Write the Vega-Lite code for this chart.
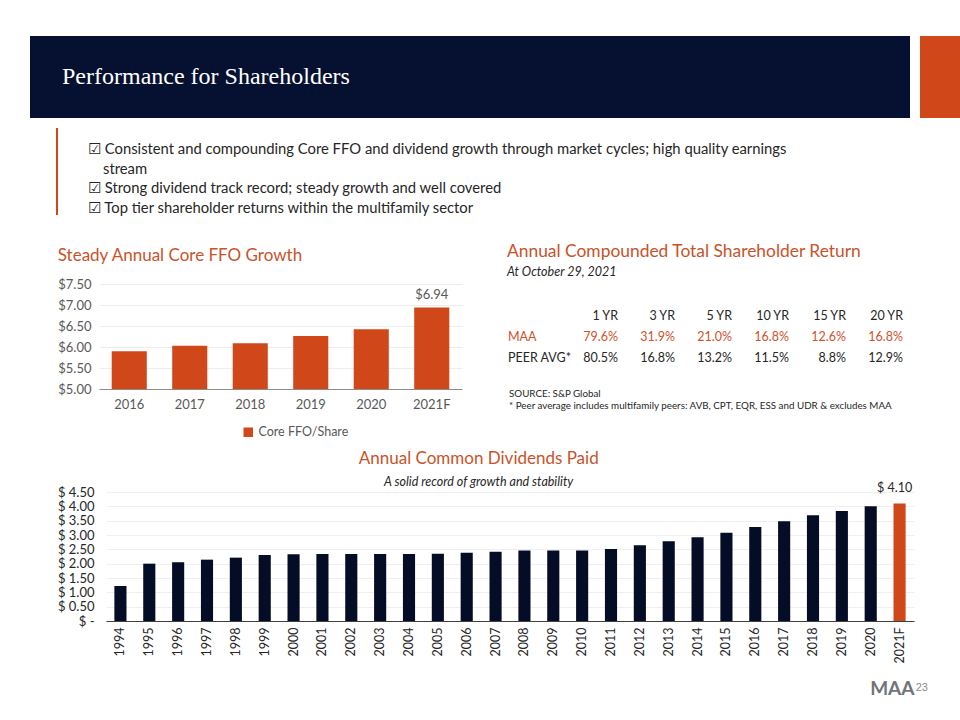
{
  "$schema": "https://vega.github.io/schema/vega-lite/v6.json",
  "background": "white",
  "padding": {"left": 30, "top": 36, "right": 0, "bottom": 6},
  "config": {
    "font": "Lato",
    "view": {"stroke": null},
    "axis": {"labelFont": "Lato", "titleFont": "Lato"},
    "title": {"font": "Lato", "fontWeight": "normal", "subtitleFont": "Lato"},
    "legend": {"labelFont": "Lato"}
  },
  "title": {"text": "23", "orient": "bottom", "anchor": "end", "fontSize": 11, "color": "#8C8C8C", "font": "Liberation Sans", "dx": -32, "offset": -16},
  "spacing": 10,
  "resolve": {"scale": {"color": "independent"}, "legend": {"color": "independent"}},
  "vconcat": [
    {
      "spacing": 10,
      "hconcat": [
        {
          "width": 880, "height": 82,
          "view": {"fill": "#061131", "stroke": null},
          "data": {"values": [{"t": "Performance for Shareholders"}]},
          "mark": {"type": "text", "align": "left", "baseline": "middle", "font": "Liberation Serif", "fontSize": 24, "color": "#FFFFFF", "dx": 32},
          "encoding": {
            "text": {"field": "t"},
            "x": {"datum": 0, "type": "quantitative", "scale": {"domain": [0, 1]}, "axis": null}
          }
        },
        {
          "width": 40, "height": 82,
          "view": {"fill": "#D0471A", "stroke": null},
          "data": {"values": [{"t": ""}]},
          "mark": {"type": "text"},
          "encoding": {"text": {"field": "t"}}
        }
      ]
    },
    {
      "spacing": 25,
      "hconcat": [
        {
          "width": 1, "height": 105,
          "data": {"values": [{"t": ""}]},
          "mark": {"type": "text"},
          "encoding": {"text": {"field": "t"}}
        },
        {
          "width": 2, "height": 87,
          "view": {"fill": "#D0471A", "stroke": null},
          "data": {"values": [{"t": ""}]},
          "mark": {"type": "text"},
          "encoding": {"text": {"field": "t"}}
        },
        {
          "width": 760, "height": 99,
          "data": {"values": [
            {"i": 1, "line": "☑ Consistent and compounding Core FFO and dividend growth through market cycles; high quality earnings"},
            {"i": 2, "line": "stream"},
            {"i": 3, "line": "☑ Strong dividend track record; steady growth and well covered"},
            {"i": 4, "line": "☑ Top tier shareholder returns within the multifamily sector"}
          ]},
          "encoding": {
            "x": {"datum": 0, "type": "quantitative", "scale": {"domain": [0, 1]}, "axis": null},
            "y": {"field": "i", "type": "ordinal", "scale": {"type": "point", "domain": [1, 2, 3, 4], "padding": 1.0165}, "axis": null},
            "text": {"field": "line"}
          },
          "layer": [
            {"transform": [{"filter": "datum.i != 2"}], "mark": {"type": "text", "align": "left", "baseline": "middle", "fontSize": 14.8, "color": "#262626", "dx": 5, "dy": 2}},
            {"transform": [{"filter": "datum.i == 2"}], "mark": {"type": "text", "align": "left", "baseline": "middle", "fontSize": 14.8, "color": "#262626", "dx": 20, "dy": 2}}
          ]
        }
      ]
    },
    {
      "spacing": 26,
      "resolve": {"scale": {"color": "independent"}, "legend": {"color": "independent"}},
      "hconcat": [
        {
          "width": 1, "height": 1,
          "data": {"values": [{"t": ""}]},
          "mark": {"type": "text"},
          "encoding": {"text": {"field": "t"}}
        },
        {
          "spacing": 43,
          "resolve": {"scale": {"color": "independent"}, "legend": {"color": "independent"}},
          "hconcat": [
            {
              "width": 363, "height": 105,
              "title": {"text": "Steady Annual Core FFO Growth", "anchor": "start", "frame": "bounds", "fontSize": 17, "color": "#C8532A", "fontWeight": "normal", "offset": 13},
              "data": {"values": [
                {"year": "2016", "ffo": 5.90, "series": "Core FFO/Share"},
                {"year": "2017", "ffo": 6.03, "series": "Core FFO/Share"},
                {"year": "2018", "ffo": 6.09, "series": "Core FFO/Share"},
                {"year": "2019", "ffo": 6.26, "series": "Core FFO/Share"},
                {"year": "2020", "ffo": 6.42, "series": "Core FFO/Share"},
                {"year": "2021F", "ffo": 6.94, "series": "Core FFO/Share"}
              ]},
              "encoding": {
                "x": {"field": "year", "type": "ordinal", "scale": {"paddingInner": 0.42, "paddingOuter": 0.21},
                      "axis": {"title": null, "labelAngle": 0, "labelFontSize": 13, "labelColor": "#595959", "labelPadding": 9, "ticks": false, "domainColor": "#8C8C8C"}},
                "y": {"field": "ffo", "type": "quantitative", "scale": {"domain": [5, 7.5], "zero": false},
                      "axis": {"title": null, "values": [5, 5.5, 6, 6.5, 7, 7.5], "format": "$.2f", "labelFontSize": 13, "labelColor": "#595959", "labelPadding": 8, "ticks": false, "domain": false, "gridColor": "#EDEDED"}}
              },
              "layer": [
                {
                  "mark": {"type": "bar"},
                  "encoding": {
                    "y2": {"datum": 5},
                    "color": {"field": "series", "type": "nominal", "scale": {"range": ["#D0471A"]},
                              "legend": {"title": null, "orient": "none", "legendX": 143, "legendY": 142, "symbolType": "square", "symbolSize": 90, "symbolStrokeWidth": 0, "labelFontSize": 12.5, "labelColor": "#595959", "direction": "horizontal"}}
                  }
                },
                {
                  "transform": [{"filter": "datum.year == '2021F'"}],
                  "mark": {"type": "text", "baseline": "bottom", "dy": -6, "fontSize": 13, "color": "#595959"},
                  "encoding": {"text": {"field": "ffo", "type": "quantitative", "format": "$.2f"}}
                }
              ]
            },
            {
              "spacing": 0,
              "vconcat": [
                {
                  "width": 399, "height": 105,
                  "title": {"text": "Annual Compounded Total Shareholder Return", "subtitle": "At October 29, 2021", "anchor": "start", "frame": "group", "dx": 2, "fontSize": 17.4, "color": "#C8532A", "fontWeight": "normal", "subtitleFontStyle": "italic", "subtitleFontSize": 12.5, "subtitleColor": "#262626", "subtitlePadding": 5, "offset": 6},
                  "data": {"values": [
                    {"row": "hdr", "col": "1 YR", "txt": "1 YR"},
                    {"row": "hdr", "col": "3 YR", "txt": "3 YR"},
                    {"row": "hdr", "col": "5 YR", "txt": "5 YR"},
                    {"row": "hdr", "col": "10 YR", "txt": "10 YR"},
                    {"row": "hdr", "col": "15 YR", "txt": "15 YR"},
                    {"row": "hdr", "col": "20 YR", "txt": "20 YR"},
                    {"row": "MAA", "col": "label", "txt": "MAA"},
                    {"row": "MAA", "col": "1 YR", "txt": "79.6%"},
                    {"row": "MAA", "col": "3 YR", "txt": "31.9%"},
                    {"row": "MAA", "col": "5 YR", "txt": "21.0%"},
                    {"row": "MAA", "col": "10 YR", "txt": "16.8%"},
                    {"row": "MAA", "col": "15 YR", "txt": "12.6%"},
                    {"row": "MAA", "col": "20 YR", "txt": "16.8%"},
                    {"row": "PEER", "col": "label", "txt": "PEER AVG*"},
                    {"row": "PEER", "col": "1 YR", "txt": "80.5%"},
                    {"row": "PEER", "col": "3 YR", "txt": "16.8%"},
                    {"row": "PEER", "col": "5 YR", "txt": "13.2%"},
                    {"row": "PEER", "col": "10 YR", "txt": "11.5%"},
                    {"row": "PEER", "col": "15 YR", "txt": "8.8%"},
                    {"row": "PEER", "col": "20 YR", "txt": "12.9%"}
                  ]},
                  "encoding": {
                    "y": {"field": "row", "type": "ordinal", "bandPosition": 0.5, "scale": {"type": "band", "domain": ["hdr", "MAA", "PEER"], "paddingInner": 0, "paddingOuter": 1.263}, "axis": null},
                    "text": {"field": "txt"},
                    "color": {"condition": {"test": "datum.row == 'MAA'", "value": "#D0522A"}, "value": "#262626"}
                  },
                  "layer": [
                    {
                      "transform": [{"filter": "datum.col == 'label'"}],
                      "mark": {"type": "text", "align": "left", "baseline": "middle", "fontSize": 12.5, "dx": 3},
                      "encoding": {"x": {"field": "col", "type": "ordinal", "bandPosition": 0, "scale": {"type": "band", "domain": ["label", "1 YR", "3 YR", "5 YR", "10 YR", "15 YR", "20 YR"], "paddingInner": 0, "paddingOuter": 0}, "axis": null}}
                    },
                    {
                      "transform": [{"filter": "datum.col != 'label'"}],
                      "mark": {"type": "text", "align": "right", "baseline": "middle", "fontSize": 12.5, "dx": -1},
                      "encoding": {"x": {"field": "col", "type": "ordinal", "bandPosition": 1, "scale": {"type": "band", "domain": ["label", "1 YR", "3 YR", "5 YR", "10 YR", "15 YR", "20 YR"], "paddingInner": 0, "paddingOuter": 0}, "axis": null}}
                    }
                  ]
                },
                {
                  "width": 399, "height": 12,
                  "data": {"values": [
                    {"i": 1, "t": "SOURCE:  S&P Global"},
                    {"i": 2, "t": "* Peer average includes multifamily peers: AVB, CPT, EQR, ESS and UDR & excludes MAA"}
                  ]},
                  "mark": {"type": "text", "align": "left", "baseline": "middle", "fontSize": 9.8, "color": "#262626", "dx": 4},
                  "encoding": {
                    "x": {"datum": 0, "type": "quantitative", "scale": {"domain": [0, 1]}, "axis": null},
                    "y": {"field": "i", "type": "ordinal", "scale": {"type": "point", "padding": 0}, "axis": null},
                    "text": {"field": "t"}
                  }
                }
              ]
            }
          ]
        }
      ]
    },
    {
      "spacing": 26,
      "hconcat": [
        {
          "width": 1, "height": 1,
          "data": {"values": [{"t": ""}]},
          "mark": {"type": "text"},
          "encoding": {"text": {"field": "t"}}
        },
        {
          "width": 808, "height": 129,
          "title": {"text": "Annual Common Dividends Paid", "subtitle": "A solid record of growth and stability", "anchor": "middle", "frame": "bounds", "dx": -7, "fontSize": 17, "color": "#C8532A", "fontWeight": "normal", "subtitleFontStyle": "italic", "subtitleFontSize": 12.5, "subtitleColor": "#262626", "subtitlePadding": 8, "offset": -7},
          "data": {"values": [
            {"year": "1994", "d": 1.22},
            {"year": "1995", "d": 2.00},
            {"year": "1996", "d": 2.05},
            {"year": "1997", "d": 2.14},
            {"year": "1998", "d": 2.21},
            {"year": "1999", "d": 2.30},
            {"year": "2000", "d": 2.33},
            {"year": "2001", "d": 2.34},
            {"year": "2002", "d": 2.34},
            {"year": "2003", "d": 2.34},
            {"year": "2004", "d": 2.34},
            {"year": "2005", "d": 2.35},
            {"year": "2006", "d": 2.38},
            {"year": "2007", "d": 2.42},
            {"year": "2008", "d": 2.46},
            {"year": "2009", "d": 2.46},
            {"year": "2010", "d": 2.46},
            {"year": "2011", "d": 2.51},
            {"year": "2012", "d": 2.64},
            {"year": "2013", "d": 2.78},
            {"year": "2014", "d": 2.92},
            {"year": "2015", "d": 3.08},
            {"year": "2016", "d": 3.28},
            {"year": "2017", "d": 3.48},
            {"year": "2018", "d": 3.69},
            {"year": "2019", "d": 3.84},
            {"year": "2020", "d": 4.00},
            {"year": "2021F", "d": 4.10}
          ]},
          "encoding": {
            "x": {"field": "year", "type": "ordinal", "scale": {"paddingInner": 0.58, "paddingOuter": 0.29},
                  "axis": {"title": "MAA", "titleAnchor": "end", "titleFontSize": 19, "titleFontWeight": "bold", "titleColor": "#70757A", "titlePadding": 16, "labelAngle": 270, "labelFontSize": 12.5, "labelColor": "#262626", "labelPadding": 6, "ticks": false, "domainColor": "#404040"}},
            "y": {"field": "d", "type": "quantitative", "scale": {"domain": [0, 4.5]},
                  "axis": {"title": null, "values": [0, 0.5, 1, 1.5, 2, 2.5, 3, 3.5, 4, 4.5], "labelExpr": "datum.value == 0 ? '$ -' : '$ ' + format(datum.value, '.2f')", "labelFontSize": 13, "labelColor": "#262626", "labelPadding": 12, "ticks": false, "domain": false, "gridColor": "#EFEFEF"}}
          },
          "layer": [
            {
              "mark": {"type": "bar"},
              "encoding": {"color": {"condition": {"test": "datum.year == '2021F'", "value": "#D0471A"}, "value": "#050C26"}}
            },
            {
              "transform": [{"filter": "datum.year == '2021F'"}, {"calculate": "'$ ' + format(datum.d, '.2f')", "as": "lab"}],
              "mark": {"type": "text", "baseline": "bottom", "dy": -8, "dx": -5, "fontSize": 12.5, "color": "#262626"},
              "encoding": {"text": {"field": "lab"}}
            }
          ]
        }
      ]
    }
  ]
}
